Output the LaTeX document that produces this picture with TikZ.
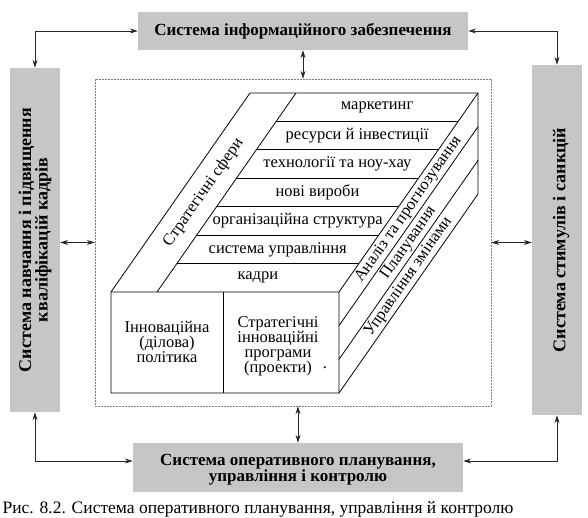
\documentclass[tikz,border=0pt]{standalone}
\usepackage{fontspec}
\setmainfont{Liberation Serif}
\usetikzlibrary{arrows.meta, calc}

\begin{document}
\begin{tikzpicture}[x=1pt,y=-1pt,>={Stealth[length=8pt,width=5pt]},
      sysbox/.style={fill=gray!45,inner sep=0pt},
      systext/.style={align=center,font=\fontsize{17}{15}\selectfont\bfseries},
      band/.style={align=center,font=\fontsize{16.5}{15}\selectfont},
      slant/.style={band,rotate=55.07},
      cube/.style={draw,line width=0.8pt},
      link/.style={<->,line width=1pt,black!85}]
  \useasboundingbox (0,0) rectangle (588,517);
  % surrounding systems
  \node[sysbox,minimum width=330,minimum height=38] (info) at (303,31) {};
  \node[systext] at (info) {Система інформаційного забезпечення};
  \node[sysbox,minimum width=50,minimum height=344] (train) at (35,240) {};
  \node[systext,rotate=90,font=\fontsize{18}{16.5}\selectfont\bfseries] at (train) {Система навчання і підвищення\\кваліфікацій кадрів};
  \node[sysbox,minimum width=50,minimum height=350] (stim) at (557,240) {};
  \node[systext,rotate=90,font=\fontsize{18}{18}\selectfont\bfseries] at ([xshift=4]stim) {Система стимулів і санкцій};
  \node[sysbox,minimum width=330,minimum height=49] (oper) at (298,467.5) {};
  \node[systext] at ([yshift=-2]oper) {Система оперативного планування,\\управління і контролю};
  \node[draw=gray,dash pattern=on 2pt off 1pt,inner sep=0pt,minimum width=396,minimum height=327] (frame) at (293,242.5) {};

  \draw[link] (info.west) -| (train.north);
  \draw[link] (info.east) -| (stim.north);
  \draw[link] (train.south) |- ([yshift=6.5]oper.west);
  \draw[link] (stim.south) |- ([yshift=6.5]oper.east);
  \draw[link] (info.south) -- (info.south |- frame.north);
  \draw[link] (oper.north) -- (oper.north |- frame.south);
  \draw[link] (train.east |- frame.west) -- (frame.west);
  \draw[link] (frame.east) -- (stim.west |- frame.east);

  % the block
  \coordinate (A) at (111,292);
  \coordinate (B) at (339,292);
  \coordinate (C) at (339,393);
  \coordinate (D) at (111,393);
  \coordinate (E) at (250,93);
  \coordinate (F) at (478,93);
  \coordinate (G) at (478,194);
  \coordinate (s0) at (157,292);
  \coordinate (s1) at (296,93);
  \coordinate (m0) at ($(s0)!0.5!(B)$);
  \coordinate (m1) at ($(s1)!0.5!(F)$);
  \draw[cube] (A) -- (E) -- (F) -- (G) -- (C) -- (D) -- cycle;
  \draw[cube] (A) -- (B) -- (C) (B) -- (F) (s0) -- (s1);
  \draw[cube] (223,292) -- (223,393);
  \foreach \k in {1,...,6}
    \draw[cube] ($(s0)!\k/7!(s1)$) -- ($(B)!\k/7!(F)$);
  \foreach \k in {1,2}
    \draw[cube] ($(B)!\k/3!(C)$) -- ($(F)!\k/3!(G)$);

  \foreach \t [count=\k from 0] in {кадри, система управління, організаційна структура,
      нові вироби, технології та ноу-хау, ресурси й інвестиції, маркетинг}
    \node[band] at ($(m0)!{(\k+0.5)/7}!(m1)$) {\t};
  \node[slant] at ($(A)!0.5!(s0) + (69.5,-99.5)$) {Стратегічні сфери};
  \foreach \t [count=\i from 0] in {Аналіз та прогнозування, Планування, Управління змінами}
    \node[slant] at ($(B)!{(\i+0.5)/3}!(C) + (69.5,-99.5)$) {\t};

  \node[band] at (167,342) {Інноваційна\\(ділова)\\політика};
  \node[band] at (278,346) {Стратегічні\\інноваційні\\програми\\(проекти)};
  \node[band] at (325,368) {.};

  \node[font=\fontsize{17.5}{18}\selectfont] (caption) at (258,509) {Рис. 8.2. Система оперативного планування, управління й контролю};
\end{tikzpicture}
\end{document}
